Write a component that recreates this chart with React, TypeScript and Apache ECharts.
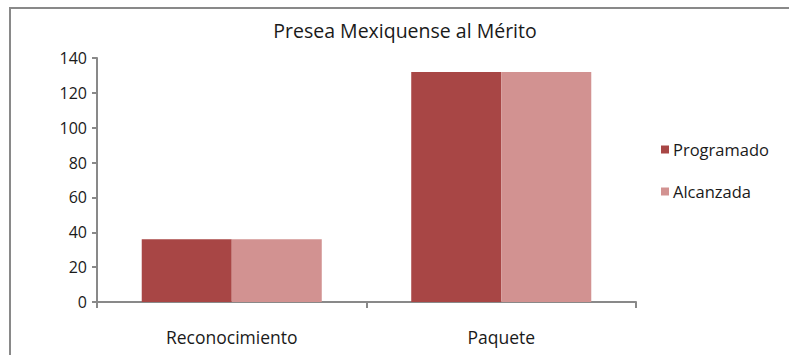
import React, { useEffect, useRef } from "react";
import * as echarts from "echarts";

const categories = ["Reconocimiento", "Paquete"];
const programado = [36, 132];
const alcanzada = [36, 132];
const seriesNames = ["Programado", "Alcanzada"];

export default function App() {
  const ref = useRef<HTMLDivElement>(null);
  useEffect(() => {
    document.body.style.margin = "0";
    const chart = echarts.init(ref.current!, null, { renderer: "svg" });
    const font = "'Open Sans', sans-serif";
    chart.setOption({
      animation: false,
      backgroundColor: "#ffffff",
      title: {
        text: "Presea Mexiquense al Mérito",
        left: 400,
        textAlign: "center",
        top: 15,
        textStyle: { fontFamily: font, fontSize: 19.5, fontWeight: "normal", color: "#1a1a1a" },
      },
      graphic: [
        {
          type: "rect",
          shape: { x: 10, y: 8, width: 900, height: 500 },
          style: { fill: "none", stroke: "#898989", lineWidth: 2 },
          silent: true,
        },
      ],
      legend: {
        orient: "vertical",
        left: 656,
        top: 136,
        itemWidth: 8,
        itemHeight: 8,
        itemGap: 25,
        icon: "rect",
        textStyle: { fontFamily: font, fontSize: 16.5, color: "#1a1a1a", padding: [0, 0, 0, -1] },
        data: seriesNames,
      },
      grid: { left: 97, right: 153, top: 58, bottom: 53, containLabel: false },
      xAxis: {
        type: "category",
        data: categories,
        axisLine: { lineStyle: { color: "#898989", width: 2 } },
        axisTick: { show: true, length: 6, alignWithLabel: false, lineStyle: { color: "#898989", width: 2 } },
        axisLabel: { fontFamily: font, fontSize: 17.5, color: "#1a1a1a", margin: 26 },
      },
      yAxis: {
        type: "value",
        min: 0,
        max: 140,
        interval: 20,
        axisLine: { show: true, lineStyle: { color: "#898989", width: 2 } },
        axisTick: { show: true, length: 5, lineStyle: { color: "#898989", width: 2 } },
        splitLine: { show: false },
        axisLabel: { fontFamily: font, fontSize: 16, color: "#1a1a1a", margin: 10 },
      },
      series: [
        {
          name: seriesNames[0],
          type: "bar",
          data: programado,
          barWidth: "33.4%",
          barGap: "0%",
          itemStyle: { color: "#A84645" },
        },
        {
          name: seriesNames[1],
          type: "bar",
          data: alcanzada,
          barWidth: "33.4%",
          barGap: "0%",
          itemStyle: { color: "#D29291" },
        },
      ],
    });
    return () => chart.dispose();
  }, []);
  return <div ref={ref} style={{ width: 789, height: 355 }} />;
}
